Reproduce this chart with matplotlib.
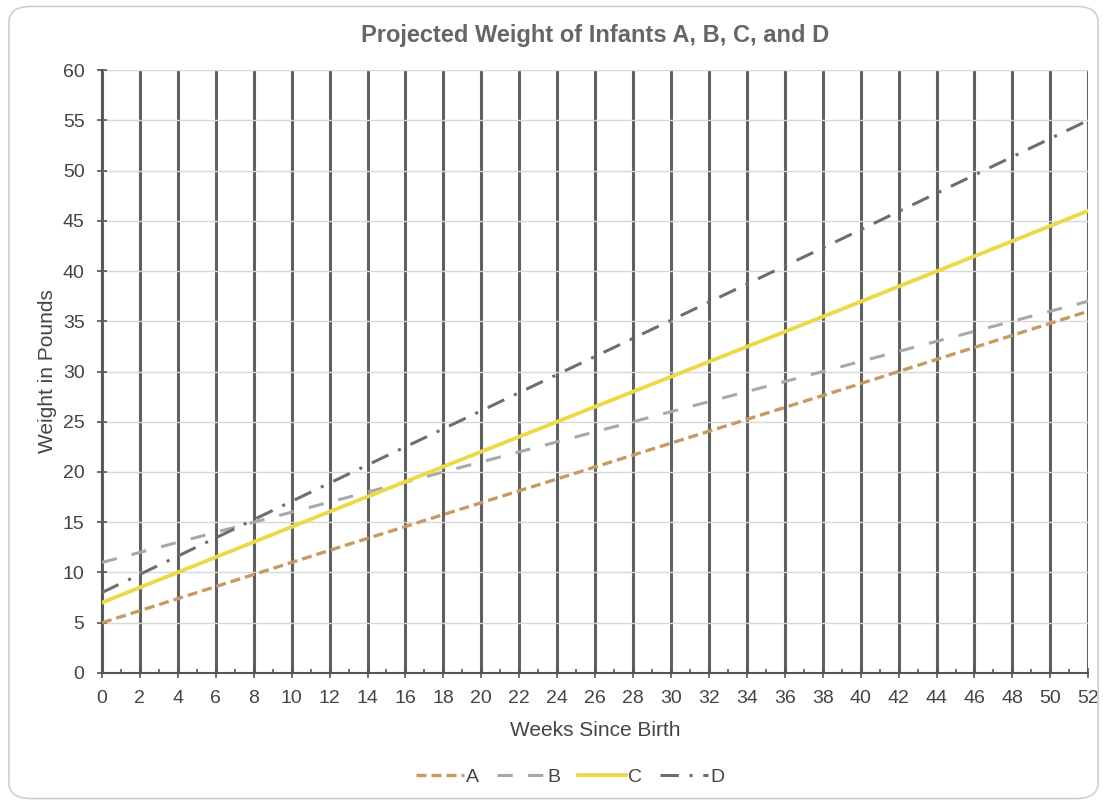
# %% load library
import matplotlib
matplotlib.use("Agg")
import matplotlib.pyplot as plt
import matplotlib.ticker as ticker
from matplotlib.patches import FancyBboxPatch

# %% data
weeks = [0, 13, 26, 39, 52]
infant_a = [5.0, 12.8, 20.5, 28.2, 36.0]
infant_b = [11.0, 17.5, 24.0, 30.5, 37.0]
infant_c = [7.0, 16.8, 26.5, 36.2, 46.0]
infant_d = [8.0, 19.8, 31.5, 43.2, 55.0]
series_labels = ["A", "B", "C", "D"]

# %% style
plt.rcParams['font.family'] = ['Liberation Sans', 'DejaVu Sans']
TEXT = "#444444"

fig = plt.figure(figsize=(11.07, 8.05), dpi=100)
ax = fig.add_axes([0.0921, 0.164, 0.891, 0.749])

# rounded outer frame
frame = FancyBboxPatch((0.008, 0.008), 0.984, 0.984,
                       boxstyle="round,pad=0,rounding_size=0.02",
                       transform=fig.transFigure, facecolor="none",
                       edgecolor="#d0d0d0", linewidth=1.2)
fig.patches.append(frame)

# grid: light horizontal, dark vertical
ax.set_xlim(0, 52)
ax.set_ylim(0, 60)
ax.xaxis.set_major_locator(ticker.MultipleLocator(2))
ax.xaxis.set_minor_locator(ticker.MultipleLocator(1))
ax.yaxis.set_major_locator(ticker.MultipleLocator(5))
ax.grid(True, axis="y", color="#d8d8d8", linewidth=1.0, zorder=0)
ax.grid(True, axis="x", color="#606060", linewidth=2.2, zorder=0)

ax.plot(weeks, infant_a, color="#c89a63", linestyle=(0, (3, 1.5)), linewidth=2.4, label=series_labels[0], zorder=3)
ax.plot(weeks, infant_b, color="#a8a8a8", linestyle=(0, (5, 5)), linewidth=2.2, label=series_labels[1], zorder=3)
ax.plot(weeks, infant_c, color="#ecd94a", linestyle="-", linewidth=2.8, label=series_labels[2], zorder=3)
ax.plot(weeks, infant_d, color="#6e6e6e", linestyle=(0, (6, 3.5, 1, 3.5)), linewidth=2.2, label=series_labels[3], zorder=3)

for side in ("top", "right"):
    ax.spines[side].set_visible(False)
for side in ("left", "bottom"):
    ax.spines[side].set_color("#555555")
    ax.spines[side].set_linewidth(1.5)

ax.tick_params(axis="both", which="major", labelsize=14, colors="#555555",
               labelcolor=TEXT, length=7, width=1.2, direction="inout")
ax.tick_params(axis="x", which="major", pad=9)
ax.tick_params(axis="y", which="major", pad=9)
ax.tick_params(axis="x", which="minor", length=3, width=1.2, colors="#555555",
               direction="in")

ax.set_xlabel("Weeks Since Birth", fontsize=15, color=TEXT, labelpad=10)
ax.set_ylabel("Weight in Pounds", fontsize=15, color=TEXT, labelpad=4)
ax.set_title("Projected Weight of Infants A, B, C, and D", fontsize=17,
             fontweight="bold", color="#666666", pad=20)

leg = fig.legend(loc="center", bbox_to_anchor=(0.515, 0.035), ncol=4,
                 frameon=False, fontsize=14, handlelength=2.5,
                 handletextpad=0.1, columnspacing=0.9)
for t in leg.get_texts():
    t.set_color(TEXT)

fig.savefig("out.png", dpi=100)
